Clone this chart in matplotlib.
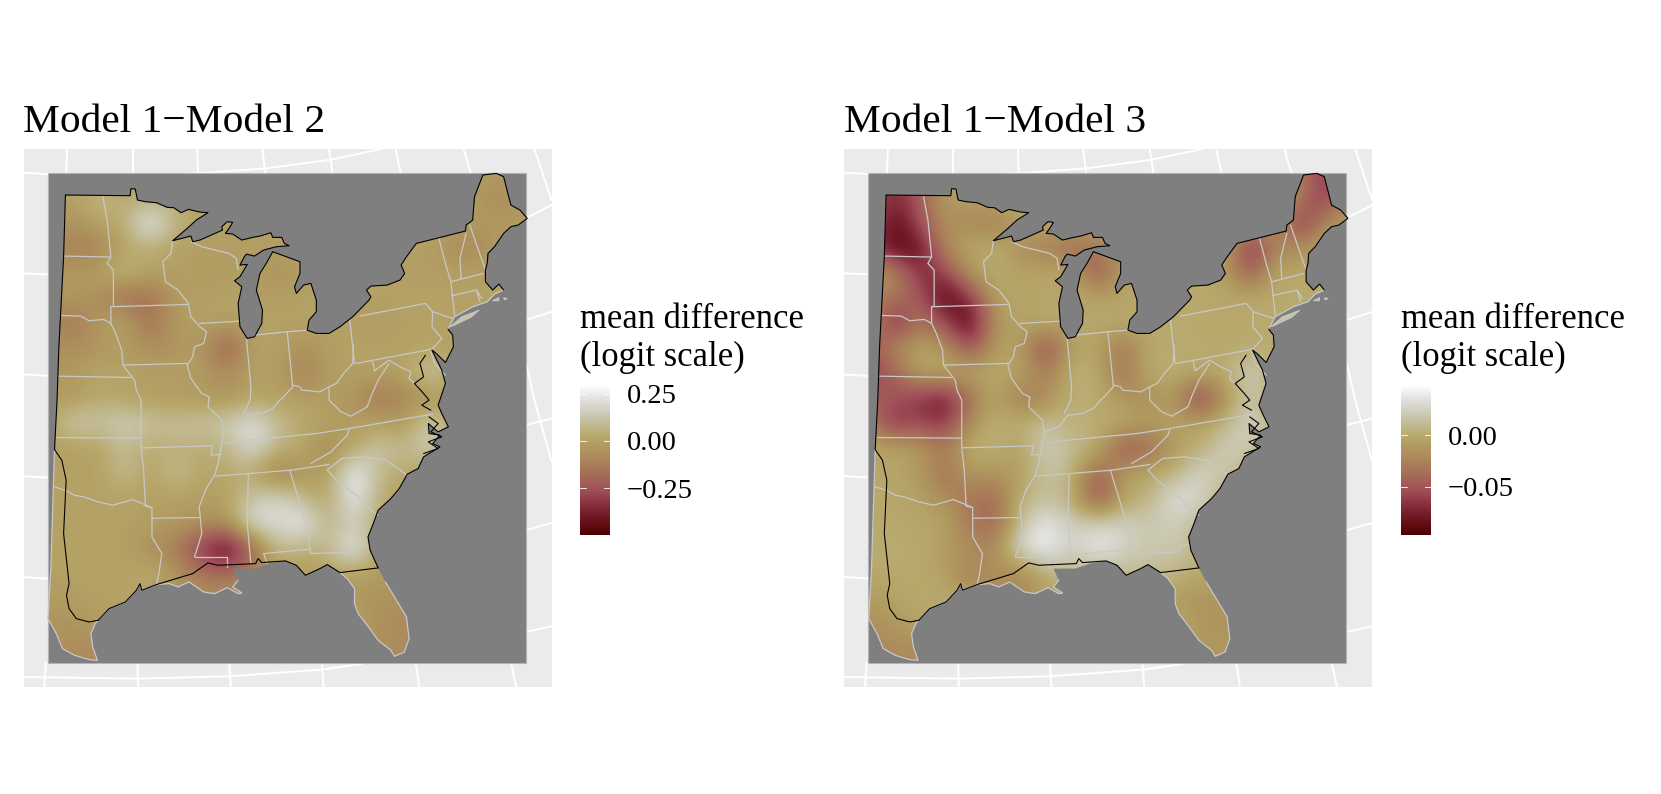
import matplotlib
matplotlib.use("Agg")
import matplotlib.pyplot as plt
import numpy as np
from matplotlib.colors import LinearSegmentedColormap, Normalize
from matplotlib.patches import PathPatch, Rectangle
from matplotlib.path import Path

plt.rcParams['font.family'] = ['Liberation Serif', 'DejaVu Serif']

FIG_W, FIG_H = 1661, 794

titles = ["Model 1\u2212Model 2", "Model 1\u2212Model 3"]
legend_title = "mean difference\n(logit scale)"
legend_ranges = [(-0.497, 0.285), (-0.097, 0.047)]
legend_ticks = [[-0.25, 0.0, 0.25], [-0.05, 0.0]]
legend_labels = [["\u22120.25", "0.00", "0.25"], ["\u22120.05", "0.00"]]

grid_u = [130, 200, 270, 340, 410, 480, 550, 620, 690, 760, 830, 900, 970, 1040, 1110, 1180, 1250, 1320, 1390, 1460]
grid_v = [130, 205, 280, 355, 430, 505, 580, 655, 730, 805, 880, 955, 1030, 1105, 1180, 1255, 1330, 1405, 1480, 1555, 1630]

# Model 1 - Model 2, hundredths of logit
diff_12 = [
    [0, 0, 0, 0, 0, 0, 0, 0, 0, 0, 0, 0, 0, 0, 0, 0, 0, -3, -3, 0],
    [0, 0, 9, 2, 3, 2, 0, 0, 0, 0, 0, 0, 0, 0, 0, 0, 0, -5, -8, -3],
    [-3, -6, 2, 4, 29, 7, 0, 0, 0, 0, 0, 0, 0, 0, 0, 0, 0, -3, -3, -2],
    [-8, -13, -12, 1, 4, 0, -1, -1, -1, -1, 0, 0, 0, 0, 0, -1, -8, -9, 0, 0],
    [-2, -3, -1, 9, 0, 0, -3, -2, 0, -7, -1, 0, 0, 0, -1, -1, -1, 0, 0, 0],
    [-2, -3, -7, -19, -17, -2, 0, 0, 0, -1, 0, 0, 0, 0, 0, 0, 0, 0, 0, 0],
    [-10, -16, -3, 2, -18, -3, 0, 0, 0, 0, 0, 0, 0, -3, 0, 0, 0, 0, 0, 0],
    [-5, -7, -4, -2, -7, -6, -1, -27, 0, 0, -6, -1, 0, 0, 0, 0, 0, 0, 0, 0],
    [-2, -4, 2, 1, 0, 0, -2, -7, 0, 0, -13, -1, 0, 0, 0, 16, 0, 0, 0, 0],
    [-2, -3, 3, 0, -2, -2, -3, -5, 0, -1, -1, -2, -5, -16, -10, -7, 0, 0, 0, 0],
    [0, 16, 11, 17, 12, 10, 12, 14, 24, 10, 3, 0, -2, 0, -3, 18, 0, 0, 0, 0],
    [-1, -1, 0, 10, 2, 6, 3, 6, 22, 7, 2, -10, 2, 14, 7, 16, 0, 0, 0, 0],
    [0, 0, 0, 10, 0, 10, 2, 2, 3, -16, -3, -2, 30, 8, 2, 0, 0, 0, 0, 0],
    [0, 0, 0, 0, 0, 0, -2, 0, 12, 20, 8, 0, 29, 3, 0, 0, 0, 0, 0, 0],
    [0, 0, 0, 0, -1, -3, -4, -7, 24, 19, 28, 5, 16, 3, 0, 0, 0, 0, 0, 0],
    [0, 0, 0, 0, -7, -13, -32, -50, -22, 11, 4, 8, 28, 0, 0, 0, 0, 0, 0, 0],
    [0, 0, 0, 0, 4, -3, -16, -18, -12, -2, -2, -2, 0, -2, -3, 0, 0, 0, 0, 0],
    [-3, -1, 0, 0, 0, -4, -5, -6, 0, 0, 0, 0, -4, -6, -6, -5, 0, 0, 0, 0],
    [-4, -5, -2, 0, 0, 0, 0, 0, 0, 0, 0, 0, 0, -7, -8, -7, 0, 0, 0, 0],
    [-6, -8, -8, -5, 0, 0, 0, 0, 0, 0, 0, 0, 0, -7, -8, -7, 0, 0, 0, 0],
    [-8, -8, -8, -5, 0, 0, 0, 0, 0, 0, 0, 0, 0, -8, -8, -7, 0, 0, 0, 0],
]

# Model 1 - Model 3, thousandths of logit
diff_13 = [
    [-50, -70, -50, 0, 0, 0, 0, 0, 0, 0, 0, 0, 0, 0, 0, 0, 0, -30, -70, -15],
    [-40, -75, -50, -10, -5, -2, 0, 0, 0, 0, 0, 0, 0, 0, 0, 0, 0, -30, -70, -15],
    [-40, -92, -55, -15, -25, -30, -5, 0, 0, 0, 0, 0, 0, 0, 0, 0, -15, -70, -20, -5],
    [-60, -92, -90, -20, 0, 2, -18, -30, -42, -35, -10, 0, 0, 0, 0, -78, -25, -20, 0, 0],
    [-8, -15, -70, -65, -10, 2, -5, -2, 0, -55, -8, 0, 0, 0, -8, -50, 0, 0, 0, 0],
    [-20, -35, -45, -95, -70, -3, -4, -3, 0, -5, -2, 0, 0, 0, 0, 0, 0, 0, 0, 0],
    [-8, -78, -30, -55, -97, -14, -3, 0, 0, 0, 0, 0, 0, 0, -3, 0, 0, 0, 0, 0],
    [-55, -20, -5, -8, -60, -6, -6, -65, -3, -5, -35, 0, 0, 0, 0, 0, 0, 0, 0, 0],
    [-60, -50, -3, -2, 0, 0, -3, -30, 5, 3, -40, 3, 2, 0, 0, 28, 0, 0, 0, 0],
    [-40, -50, -65, -82, -40, 0, -35, -20, 5, 0, -12, -22, -8, -72, -15, 18, 0, 0, 0, 0],
    [-25, -72, -55, -72, -15, 3, 3, 15, 3, 2, 2, -8, -5, -5, 5, 32, 0, 0, 0, 0],
    [0, -3, -8, -30, 3, 5, -8, 26, 12, 5, -55, -45, -8, 0, 26, 20, 0, 0, 0, 0],
    [0, -3, -8, -40, -10, -15, -8, 18, 8, -50, -8, 0, 3, 30, 18, 0, 0, 0, 0, 0],
    [0, -2, -6, -18, -35, -40, 6, 12, 5, -62, -5, 5, 38, 30, 0, 0, 0, 0, 0, 0],
    [0, 0, -1, -3, -30, -45, 15, 42, 22, 26, 26, 20, 24, 12, 0, 0, 0, 0, 0, 0],
    [0, 0, 0, -10, -18, -22, 36, 46, 22, 46, 28, 18, 22, 6, 0, 0, 0, 0, 0, 0],
    [0, 0, 0, -4, -30, -15, -28, 5, 10, 3, 10, 12, 6, 0, -8, 0, 0, 0, 0, 0],
    [-10, -5, 0, 0, -5, -20, -20, -10, 0, 0, 0, 0, -10, -14, -14, -12, 0, 0, 0, 0],
    [-18, -12, -3, 0, 0, 0, 0, 0, 0, 0, 0, 0, 0, -14, -14, -12, 0, 0, 0, 0],
    [-20, -22, -20, -10, 0, 0, 0, 0, 0, 0, 0, 0, 0, -12, -12, -12, 0, 0, 0, 0],
    [-20, -22, -20, -10, 0, 0, 0, 0, 0, 0, 0, 0, 0, -12, -12, -12, 0, 0, 0, 0],
]

# north edge, lakes and atlantic coast
coast_north = [(180, 195), (358, 197), (360, 176), (372, 177), (378, 210), (400, 215), (430, 218), (460, 232),
               (478, 233), (498, 248), (518, 238), (550, 246), (572, 248), (540, 270), (515, 295), (475, 332),
               (500, 325), (525, 318), (530, 335), (550, 330), (575, 318), (612, 300), (610, 290), (625, 275),
               (640, 277), (630, 295), (620, 310), (640, 312), (665, 330), (695, 322), (715, 318), (745, 308),
               (750, 322), (775, 322), (782, 340), (795, 347), (760, 350), (725, 360), (700, 378), (678, 372),
               (672, 380), (660, 405), (680, 403), (660, 440), (645, 452), (665, 470), (655, 520), (660, 590),
               (680, 625), (700, 620), (720, 580), (722, 540), (705, 480), (715, 430), (735, 395), (750, 365),
               (775, 375), (825, 395), (825, 430), (810, 470), (815, 490), (835, 465), (855, 460), (870, 510),
               (870, 545), (850, 570), (845, 600), (870, 610), (905, 610), (935, 590), (970, 560), (1015, 510),
               (1020, 500), (1008, 480), (1020, 468), (1065, 465), (1100, 450), (1113, 430), (1103, 405),
               (1118, 380), (1145, 340), (1200, 325), (1280, 303), (1282, 285), (1300, 270), (1305, 200),
               (1328, 135), (1365, 130), (1385, 140), (1405, 225), (1430, 240), (1450, 265), (1425, 285),
               (1405, 290), (1385, 310), (1360, 350), (1342, 370), (1340, 400), (1335, 420), (1335, 455),
               (1355, 480), (1372, 462), (1385, 480)]
coast_ne_grey = [(1385, 480), (1360, 492), (1340, 515), (1300, 530), (1250, 560), (1232, 597)]
coast_mid = [(1232, 597), (1245, 615), (1247, 650), (1225, 697), (1200, 670), (1188, 660), (1215, 720), (1225, 760),
             (1205, 825), (1215, 850), (1233, 890), (1205, 905), (1178, 880), (1180, 910), (1210, 915), (1190, 940),
             (1210, 950), (1165, 980), (1150, 1015), (1120, 1032), (1098, 1075), (1075, 1105), (1040, 1140),
             (1025, 1185), (1012, 1220), (1018, 1260), (1040, 1313)]
chesapeake = [(1170, 675), (1155, 700), (1165, 740), (1140, 760), (1165, 790), (1180, 810), (1160, 825), (1185, 840)]
sound_inlets = [(1165, 970), (1205, 955), (1178, 935), (1215, 920), (1185, 905), (1205, 880), (1180, 860)]
florida = [(1060, 1355), (1085, 1400), (1118, 1460), (1125, 1525), (1112, 1565), (1085, 1578), (1075, 1560),
           (1040, 1530), (1010, 1485), (985, 1450), (975, 1420), (975, 1375), (955, 1345), (935, 1327)]
gulf_black = [(1040, 1313), (935, 1327), (900, 1303), (880, 1315), (840, 1335), (815, 1305), (785, 1292), (720, 1297),
              (710, 1285), (703, 1300), (600, 1305), (572, 1298), (530, 1330), (430, 1363), (390, 1380), (385, 1360),
              (375, 1380), (345, 1415), (300, 1435), (270, 1470)]
texas_black = [(270, 1470), (245, 1475), (210, 1465), (190, 1435), (183, 1395), (190, 1360), (183, 1290), (175, 1210),
               (182, 1050), (170, 990), (150, 958), (157, 810), (162, 650), (175, 380), (180, 195)]
east_gulf = [(935, 1327), (900, 1303), (880, 1315), (840, 1335), (815, 1305), (785, 1292), (740, 1300), (700, 1315),
             (640, 1315), (655, 1350), (640, 1370), (665, 1388), (655, 1390), (625, 1372), (610, 1380), (590, 1390),
             (560, 1385), (520, 1355), (490, 1370), (465, 1360), (430, 1363), (390, 1380), (385, 1360), (375, 1380),
             (345, 1415), (300, 1435), (270, 1470)]
south_texas = [(270, 1470), (262, 1480), (250, 1510), (255, 1550), (268, 1590), (245, 1588), (205, 1575), (172, 1555),
               (155, 1510), (132, 1465), (140, 1310), (150, 960)]
west_edge = [(157, 810), (162, 650), (175, 380), (180, 195)]
islands = [[(1238, 590), (1270, 560), (1318, 540), (1295, 562), (1250, 585)],
           [(1355, 512), (1372, 502), (1372, 512)],
           [(1385, 503), (1395, 505), (1388, 510)]]

state_lines = [
    [(283, 200), (295, 270), (305, 380), (295, 400), (312, 420), (312, 528)],
    [(175, 378), (305, 381)],
    [(168, 556), (222, 558), (245, 572), (285, 568), (305, 580)],
    [(305, 530), (518, 523)],
    [(305, 530), (305, 580), (318, 610), (335, 660), (338, 705), (370, 750), (375, 780), (388, 810)],
    [(160, 738), (360, 742)],
    [(338, 705), (515, 700)],
    [(475, 332), (470, 370), (448, 395), (455, 455), (490, 480), (518, 520), (525, 560), (550, 590), (568, 605),
     (560, 640), (535, 650), (530, 680), (515, 705), (525, 745), (555, 790), (575, 800), (572, 830), (610, 870),
     (615, 905), (610, 940), (600, 1000), (590, 1035), (565, 1080), (548, 1130), (555, 1210), (535, 1280)],
    [(548, 580), (660, 573)],
    [(525, 335), (555, 350), (630, 370), (650, 385), (655, 420)],
    [(678, 625), (690, 770), (688, 810), (670, 850)],
    [(700, 615), (790, 605), (845, 600)],
    [(790, 605), (805, 770)],
    [(962, 570), (975, 700)],
    [(990, 558), (1170, 520), (1190, 545), (1245, 565)],
    [(978, 700), (1175, 660)],
    [(805, 765), (825, 770), (830, 780), (880, 785), (905, 770), (925, 760), (945, 730), (970, 700), (972, 645)],
    [(1207, 325), (1225, 400), (1240, 455), (1250, 555)],
    [(1282, 310), (1265, 385), (1268, 445)],
    [(1292, 285), (1335, 420)],
    [(1240, 455), (1330, 430)],
    [(1242, 497), (1310, 480), (1325, 505)],
    [(1310, 480), (1320, 515)],
    [(1190, 545), (1188, 590), (1215, 625), (1190, 655), (1175, 660)],
    [(1025, 695), (1030, 722), (1070, 690), (1100, 710), (1130, 725), (1125, 745), (1150, 770)],
    [(1070, 700), (1040, 750), (1020, 800), (1010, 830), (965, 858), (938, 845), (905, 810), (905, 770)],
    [(1185, 665), (1195, 700), (1225, 735)],
    [(155, 922), (388, 924)],
    [(388, 810), (388, 953), (395, 1020), (400, 1128), (418, 1132), (418, 1164), (418, 1220), (445, 1270), (437, 1330),
     (430, 1363)],
    [(150, 1070), (180, 1080), (205, 1095), (230, 1100), (270, 1115), (310, 1125), (365, 1108), (418, 1132)],
    [(418, 1164), (548, 1162)],
    [(390, 953), (585, 947), (580, 975), (610, 972)],
    [(618, 940), (680, 930), (870, 910), (960, 895), (1190, 852)],
    [(592, 1038), (800, 1020), (905, 1003)],
    [(960, 898), (955, 915), (910, 965), (855, 1000)],
    [(900, 1020), (940, 985), (1000, 980), (1062, 990), (1120, 1035)],
    [(900, 1020), (930, 1055), (985, 1100), (1020, 1140), (1040, 1155)],
    [(797, 1020), (840, 1175), (855, 1270)],
    [(855, 1270), (985, 1265), (990, 1245), (1015, 1245)],
    [(725, 1270), (850, 1257)],
    [(725, 1270), (735, 1300)],
    [(683, 1033), (680, 1180), (690, 1300)],
    [(535, 1280), (625, 1280), (625, 1310)],
    [(618, 905), (655, 890), (680, 855), (720, 850), (750, 835), (770, 810)],
    [(805, 770), (780, 800), (770, 810)],
]

# graticule of the projection, what shows around the grey square
graticule = [
    [(65, 128), (130, 132), (350, 140), (570, 128), (730, 115), (905, 90), (1050, 57)],
    [(65, 430), (130, 433)], [(1446, 265), (1517, 225)],
    [(65, 733), (130, 737)], [(1446, 570), (1517, 545)],
    [(65, 1038), (130, 1042)], [(1446, 885), (1517, 865)],
    [(65, 1340), (130, 1345)], [(1446, 1200), (1517, 1178)],
    [(65, 1640), (380, 1645), (630, 1638), (885, 1618), (1000, 1600)], [(1446, 1505), (1517, 1488)],
    [(185, 57), (182, 130)], [(122, 1670), (126, 1597)],
    [(365, 57), (365, 130)], [(380, 1670), (378, 1597)],
    [(542, 57), (545, 130)], [(635, 1670), (630, 1597)],
    [(722, 57), (730, 130)], [(890, 1670), (885, 1597)],
    [(905, 57), (915, 130)], [(1153, 1670), (1143, 1597)],
    [(1088, 57), (1102, 130)], [(1420, 1670), (1405, 1597)],
    [(1275, 57), (1295, 130)],
    [(1470, 57), (1517, 210)],
    [(1447, 700), (1470, 810), (1517, 995)],
]

cmap_colors = [(0.0, "#4F0000"), (0.15, "#7A2030"), (0.3, "#A05058"), (0.45, "#A87858"), (0.6, "#B09A60"),
               (0.67, "#B8A86C"), (0.8, "#C8C5AA"), (0.9, "#DBDBD6"), (1.0, "#F8F8F8")]
diff_cmap = LinearSegmentedColormap.from_list("diff", cmap_colors)


def px_axes(fig, left, top, right, bottom):
    return fig.add_axes([left / FIG_W, 1 - bottom / FIG_H, (right - left) / FIG_W, (bottom - top) / FIG_H])


def draw_lines(ax, lines, color, lw, zorder):
    for line in lines:
        pts = np.array(line)
        ax.plot(pts[:, 0], pts[:, 1], color=color, lw=lw, zorder=zorder, solid_capstyle='round')


def draw_panel(fig, left, values, vrange, title, ticks, labels):
    ax = px_axes(fig, left, 149, left + 528, 687)
    ax.set_xlim(65, 1517)
    ax.set_ylim(1670, 57)
    ax.axis('off')
    ax.add_patch(Rectangle((65, 57), 1452, 1613, fc="#EBEBEB", ec='none', zorder=0))
    draw_lines(ax, graticule, 'white', 1.4, 1)
    ax.add_patch(Rectangle((131, 130), 1315, 1467, fc="#7F7F7F", ec="#B4B4B4", lw=0.8, zorder=2))

    outline = coast_north + coast_ne_grey[1:] + coast_mid[1:] + florida + east_gulf[1:] + south_texas[1:] + west_edge
    clip = PathPatch(Path(outline), transform=ax.transData, fc='none', ec='none')
    ax.add_patch(clip)
    norm = Normalize(*vrange)
    half_u = (grid_u[1] - grid_u[0]) / 2
    half_v = (grid_v[1] - grid_v[0]) / 2
    im = ax.imshow(values, cmap=diff_cmap, norm=norm, interpolation='bicubic', aspect='auto', origin='upper',
                   extent=[grid_u[0] - half_u, grid_u[-1] + half_u, grid_v[-1] + half_v, grid_v[0] - half_v], zorder=3)
    im.set_clip_path(clip)
    ax.set_xlim(65, 1517)
    ax.set_ylim(1670, 57)

    for isle in islands:
        ax.add_patch(plt.Polygon(isle, fc="#C9C4A8", ec="#C8C8C8", lw=0.6, zorder=4))
    draw_lines(ax, [coast_ne_grey, florida, east_gulf[9:], south_texas], "#C8C8C8", 0.9, 4)
    draw_lines(ax, state_lines, "#C8C8C8", 0.9, 4)
    draw_lines(ax, [coast_north, coast_mid, gulf_black, texas_black, chesapeake, sound_inlets], 'black', 0.8, 5)

    fig.text((left - 0.5) / FIG_W, 1 - 132 / FIG_H, title, fontsize=29.8, ha='left', va='baseline')

    # legend
    bar_left = left + 556.5
    cax = px_axes(fig, bar_left, 387, bar_left + 30, 535)
    grad = np.linspace(vrange[0], vrange[1], 64)[:, None]
    cax.imshow(grad, cmap=diff_cmap, norm=norm, aspect='auto', origin='lower', interpolation='bilinear',
               extent=[0, 1, vrange[0], vrange[1]])
    cax.axis('off')
    for t, lab in zip(ticks, labels):
        cax.plot([0, 0.2], [t, t], color='white', lw=0.6)
        cax.plot([0.8, 1], [t, t], color='white', lw=0.6)
        y = 387 + (vrange[1] - t) / (vrange[1] - vrange[0]) * 148
        fig.text((bar_left + 47) / FIG_W, 1 - y / FIG_H, lab, fontsize=20.5, ha='left', va='center_baseline')
    cax.set_xlim(0, 1)
    cax.set_ylim(*vrange)
    fig.text(bar_left / FIG_W, 1 - 328 / FIG_H, legend_title.split("\n")[0], fontsize=24.9, ha='left', va='baseline')
    fig.text(bar_left / FIG_W, 1 - 366 / FIG_H, legend_title.split("\n")[1], fontsize=24.9, ha='left', va='baseline')


fig = plt.figure(figsize=(FIG_W / 100, FIG_H / 100), dpi=100)
draw_panel(fig, 23.6, np.array(diff_12) / 100, legend_ranges[0], titles[0], legend_ticks[0], legend_labels[0])
draw_panel(fig, 844.3, np.array(diff_13) / 1000, legend_ranges[1], titles[1], legend_ticks[1], legend_labels[1])
fig.savefig("out.png", dpi=100)
